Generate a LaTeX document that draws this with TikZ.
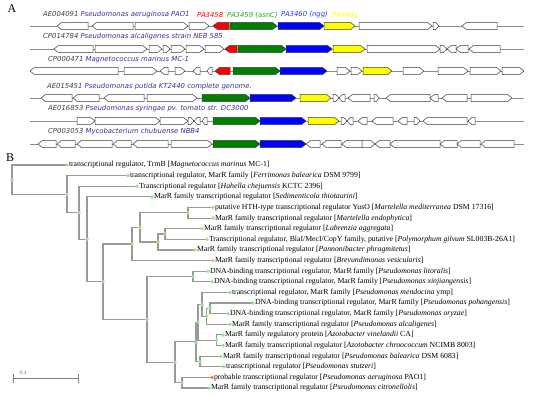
\documentclass[tikz,border=0pt]{standalone}
\usepackage{fontspec}
\setmainfont{Liberation Serif}
\newfontfamily\verd{DejaVu Sans}
\definecolor{gred}{HTML}{FF0000}
\definecolor{ggreen}{HTML}{008000}
\definecolor{gblue}{HTML}{0000FF}
\definecolor{gyel}{HTML}{FFFF00}
\definecolor{accgray}{HTML}{404040}
\definecolor{spblue}{HTML}{333399}
\definecolor{lblgreen}{HTML}{22AA22}
\definecolor{lblblue}{HTML}{3333FF}
\definecolor{brgray}{HTML}{999999}
\definecolor{dkhaki}{HTML}{D8CC7A}
\definecolor{dgreen}{HTML}{80F080}
\definecolor{dgray}{HTML}{C4C4C4}
\definecolor{dorange}{HTML}{F08030}
\tikzset{
  gene/.style={draw=black!75, line width=0.5bp, line join=miter},
  backbone/.style={draw=black!45, line width=0.7bp},
  alab/.style={font=\verd\itshape\fontsize{6.9}{8}\selectfont, inner sep=0pt, anchor=west},
  br/.style={draw=brgray, line width=1.1bp},
  dot/.style={circle, inner sep=0pt, minimum size=3.8bp, draw=none},
  lbl/.style={font=\fontsize{7.8}{9}\selectfont, inner sep=0pt, anchor=west},
  panel/.style={font=\fontsize{12}{13}\selectfont, inner sep=0pt}
}
\newcommand{\gfw}[4]{%
  \pgfmathsetmacro\tp{min(4.5,0.55*(#2-#1))}%
  \filldraw[gene,fill=#4] (#1,#3-3.6) -- (#2-\tp,#3-3.6) -- (#2,#3) -- (#2-\tp,#3+3.6) -- (#1,#3+3.6) -- cycle;}
\newcommand{\grv}[4]{%
  \pgfmathsetmacro\tp{min(4.5,0.55*(#2-#1))}%
  \filldraw[gene,fill=#4] (#2,#3-3.6) -- (#1+\tp,#3-3.6) -- (#1,#3) -- (#1+\tp,#3+3.6) -- (#2,#3+3.6) -- cycle;}
\newcommand{\leafnode}[5]{%
  \node[dot, fill=#4] (#1) at (#2,#3) {};
  \node[lbl] (t#1) at (#2+1.8,#3) {#5};}
\begin{document}
\begin{tikzpicture}[x=1bp,y=-1bp]
\useasboundingbox (0,0) rectangle (550,394);
\fill[white] (0,0) rectangle (550,394);
% ---------------- Panel A ----------------
\node[panel] (pA) at (12,9) {A};
\foreach \yy in {26,49,71,98,121,144} {\draw[backbone] (30,\yy) -- (524,\yy);}
% row 1
\grv{57}{88}{26}{white}
\grv{92}{133}{26}{white}
\gfw{135}{188}{26}{white}
\gfw{189}{209}{26}{white}
\grv{213}{229}{26}{gred}
\gfw{230}{277}{26}{ggreen}
\gfw{278}{324}{26}{gblue}
\gfw{324}{355}{26}{gyel}
\gfw{359}{432}{26}{white}
\gfw{433}{439}{26}{white}
\grv{462}{497}{26}{white}
% row 2
\grv{54}{93}{49}{white}
\gfw{95}{147}{49}{white}
\gfw{149}{162}{49}{white}
\gfw{163}{170}{49}{white}
\gfw{171}{185}{49}{white}
\gfw{186}{204}{49}{white}
\gfw{205}{224}{49}{white}
\grv{225}{237}{49}{gred}
\gfw{238}{286}{49}{ggreen}
\gfw{286}{332}{49}{gblue}
\gfw{333}{365}{49}{gyel}
\gfw{367}{440}{49}{white}
\gfw{440}{447}{49}{white}
\grv{447}{456}{49}{white}
\grv{456}{468}{49}{white}
\grv{469}{500}{49}{white}
% row 3
\grv{30}{118}{71}{white}
\gfw{124}{157}{71}{white}
\grv{160}{168}{71}{white}
\gfw{175}{185}{71}{white}
\grv{193}{200}{71}{white}
\grv{207}{212}{71}{white}
\grv{215}{230}{71}{gred}
\gfw{233}{280}{71}{ggreen}
\gfw{280}{327}{71}{gblue}
\gfw{337}{350}{71}{white}
\gfw{351}{362}{71}{white}
\gfw{363}{392}{71}{gyel}
\gfw{403}{424}{71}{white}
\gfw{438}{468}{71}{white}
\gfw{470}{501}{71}{white}
\gfw{502}{524}{71}{white}
% row 4
\grv{41}{72}{98}{white}
\grv{73}{99}{98}{white}
\grv{104}{144}{98}{white}
\gfw{147}{197}{98}{white}
\gfw{202}{250}{98}{ggreen}
\gfw{250}{296}{98}{gblue}
\gfw{300}{331}{98}{gyel}
\gfw{333}{339}{98}{white}
\grv{339}{345}{98}{white}
\grv{348}{370}{98}{white}
\gfw{374}{379}{98}{white}
\grv{386}{430}{98}{white}
\grv{430}{438}{98}{white}
\grv{442}{467}{98}{white}
\gfw{471}{512}{98}{white}
% row 5
\gfw{77}{95}{121}{white}
\gfw{95}{160}{121}{white}
\gfw{160}{188}{121}{white}
\gfw{188}{194}{121}{white}
\grv{194}{200}{121}{white}
\grv{202}{207}{121}{white}
\gfw{213}{260}{121}{ggreen}
\gfw{260}{306}{121}{gblue}
\gfw{308}{339}{121}{gyel}
\gfw{341}{347}{121}{white}
\grv{347}{353}{121}{white}
\grv{358}{367}{121}{white}
\grv{372}{393}{121}{white}
\grv{398}{407}{121}{white}
\gfw{414}{420}{121}{white}
\grv{423}{467}{121}{white}
\grv{468}{475}{121}{white}
% row 6
\grv{38}{56}{144}{white}
\grv{57}{75}{144}{white}
\grv{77}{112}{144}{white}
\grv{113}{131}{144}{white}
\grv{133}{168}{144}{white}
\gfw{171}{212}{144}{white}
\gfw{213}{260}{144}{ggreen}
\gfw{260}{306}{144}{gblue}
\grv{306}{320}{144}{white}
\grv{322}{341}{144}{white}
\grv{342}{362}{144}{white}
\gfw{362}{375}{144}{white}
\grv{375}{390}{144}{white}
\grv{390}{440}{144}{white}
\grv{440}{457}{144}{white}
\grv{457}{480}{144}{white}
\grv{481}{514}{144}{white}
% labels
\node[alab] (a1) at (43,15) {\color{accgray}AE004091 \color{spblue}Pseudomonas aeruginosa PAO1};
\node[alab, text=gred] (p58) at (197,15) {PA3458};
\node[alab, text=lblgreen] (p59) at (227,15) {PA3459 (asnC)};
\node[alab, text=lblblue] (p60) at (281,15) {PA3460 (ngg)};
\node[alab, text=gyel] (p61) at (332,15) {PA3461};
\node[alab] (a2) at (43,37) {\color{accgray}CP014784 \color{spblue}Pseudomonas alcaligenes strain NEB 585};
\node[alab] (a3) at (48,60) {\color{accgray}CP000471 \color{spblue}Magnetococcus marinus MC-1};
\node[alab] (a4) at (47,87) {\color{accgray}AE015451 \color{spblue}Pseudomonas putida KT2440 complete genome.};
\node[alab] (a5) at (48,109) {\color{accgray}AE016853 \color{spblue}Pseudomonas syringae pv. tomato str. DC3000};
\node[alab] (a6) at (48,132) {\color{accgray}CP003053 \color{spblue}Mycobacterium chubuense NBB4};
% ---------------- Panel B ----------------
\node[panel] (pB) at (10,158) {B};
% internal node coordinates
\coordinate (R) at (12,179.6);
\coordinate (N1) at (67,194.2);
\coordinate (N2) at (79,212.7);
\coordinate (N3) at (87,239.3);
\coordinate (N4) at (103,281.7);
\coordinate (N5) at (132,244.0);
\coordinate (N7) at (140,227.4);
\coordinate (N8) at (188,212.8);
\coordinate (N9) at (158,242.0);
\coordinate (N10) at (165,234.0);
\coordinate (N6) at (147,319.4);
\coordinate (N11) at (193,276.5);
\coordinate (N12) at (175,362.3);
\coordinate (N13) at (196,341.9);
\coordinate (D1) at (198,322.3);
\coordinate (NA) at (202,304.4);
\coordinate (NB) at (206.5,316.3);
\coordinate (NC) at (210,308.3);
\coordinate (NE) at (216.5,340.2);
\coordinate (NF) at (200,361.5);
\coordinate (N14) at (182,382.7);
% leaf coordinates
\coordinate (L1) at (67,165.0);
\coordinate (L2) at (128,175.6);
\coordinate (L3) at (137,186.2);
\coordinate (L4) at (152,196.9);
\coordinate (L5) at (213,207.5);
\coordinate (L6) at (213,218.1);
\coordinate (L7) at (202,228.7);
\coordinate (L8) at (207,239.3);
\coordinate (L9) at (195,250.0);
\coordinate (L10) at (213,260.6);
\coordinate (L11) at (208,271.2);
\coordinate (L12) at (212,281.8);
\coordinate (L13) at (230,292.4);
\coordinate (L14) at (253,303.0);
\coordinate (L15) at (228,313.7);
\coordinate (L16) at (230,324.3);
\coordinate (L17) at (223,334.9);
\coordinate (L18) at (223,345.5);
\coordinate (L19) at (221,356.2);
\coordinate (L20) at (224,366.8);
\coordinate (L21) at (212,377.4);
\coordinate (L22) at (209,388.0);
% branches
\foreach \p/\c in {R/L1,R/N1,N1/L2,N1/N2,N2/L3,N2/N3,N3/L4,N3/N4,N4/N5,N4/N6,
  N5/N7,N5/L10,N7/N8,N7/N9,N8/L5,N8/L6,N9/N10,N9/L9,N10/L7,N10/L8,
  N6/N11,N6/N12,N11/L11,N11/L12,N12/N13,N12/N14,N13/D1,N13/NF,D1/NA,D1/NE,
  NA/L13,NA/NB,NB/NC,NB/L16,NC/L14,NC/L15,NE/L17,NE/L18,NF/L19,NF/L20,N14/L21,N14/L22}
  {\draw[br] (\p) |- (\c);}
% internal dots
\foreach \n in {R,N1,N2,N3,N4,N6,N12,N14} {\node[dot, fill=dgray] (d\n) at (\n) {};}
\foreach \n in {N5,N7,N8,N9,N10} {\node[dot, fill=dkhaki] (d\n) at (\n) {};}
\foreach \n in {N11,N13,D1,NA,NB,NC,NE,NF} {\node[dot, fill=dgreen] (d\n) at (\n) {};}
% leaves
\leafnode{m1}{67}{165.0}{dkhaki}{transcriptional regulator, TrmB [\textit{Magnetococcus marinus} MC-1]}
\leafnode{m2}{128}{175.6}{dgreen}{transcriptional regulator, MarR family [\textit{Ferrimonas balearica} DSM 9799]}
\leafnode{m3}{137}{186.2}{dgreen}{Transcriptional regulator [\textit{Hahella chejuensis} KCTC 2396]}
\leafnode{m4}{152}{196.9}{dgreen}{MarR family transcriptional regulator [\textit{Sedimenticola thiotaurini}]}
\leafnode{m5}{213}{207.5}{dkhaki}{putative HTH-type transcriptional regulator YusO [\textit{Martelella mediterranea} DSM 17316]}
\leafnode{m6}{213}{218.1}{dkhaki}{MarR family transcriptional regulator [\textit{Martelella endophytica}]}
\leafnode{m7}{202}{228.7}{dkhaki}{MarR family transcriptional regulator [\textit{Labrenzia aggregata}]}
\leafnode{m8}{207}{239.3}{dkhaki}{Transcriptional regulator, BlaI/MecI/CopY family, putative [\textit{Polymorphum gilvum} SL003B-26A1]}
\leafnode{m9}{195}{250.0}{dkhaki}{MarR family transcriptional regulator [\textit{Pannonibacter phragmitetus}]}
\leafnode{m10}{213}{260.6}{dkhaki}{MarR family transcriptional regulator [\textit{Brevundimonas vesicularis}]}
\leafnode{m11}{208}{271.2}{dgreen}{DNA-binding transcriptional regulator, MarR family [\textit{Pseudomonas litoralis}]}
\leafnode{m12}{212}{281.8}{dgreen}{DNA-binding transcriptional regulator, MarR family [\textit{Pseudomonas xinjiangensis}]}
\leafnode{m13}{230}{292.4}{dgreen}{transcriptional regulator, MarR family [\textit{Pseudomonas mendocina} ymp]}
\leafnode{m14}{253}{303.0}{dgreen}{DNA-binding transcriptional regulator, MarR family [\textit{Pseudomonas pohangensis}]}
\leafnode{m15}{228}{313.7}{dgreen}{DNA-binding transcriptional regulator, MarR family [\textit{Pseudomonas oryzae}]}
\leafnode{m16}{230}{324.3}{dgreen}{MarR family transcriptional regulator [\textit{Pseudomonas alcaligenes}]}
\leafnode{m17}{223}{334.9}{dgreen}{MarR family regulatory protein [\textit{Azotobacter vinelandii} CA]}
\leafnode{m18}{223}{345.5}{dgreen}{MarR family transcriptional regulator [\textit{Azotobacter chroococcum} NCIMB 8003]}
\leafnode{m19}{221}{356.2}{dgreen}{MarR family transcriptional regulator [\textit{Pseudomonas balearica} DSM 6083]}
\leafnode{m20}{224}{366.8}{dgreen}{transcriptional regulator [\textit{Pseudomonas stutzeri}]}
\leafnode{m21}{212}{377.4}{dorange}{probable transcriptional regulator [\textit{Pseudomonas aeruginosa} PAO1]}
\leafnode{m22}{209}{388.0}{dgreen}{MarR family transcriptional regulator [\textit{Pseudomonas citronellolis}]}
% scale bar
\coordinate (sb1) at (13,378);
\coordinate (sb2) at (78,378);
\draw[draw=black!50, line width=0.7bp] (sb1) -- (sb2);
\draw[draw=black!50, line width=0.7bp] ([yshift=4.5bp]sb1) -- ([yshift=-4.5bp]sb1);
\draw[draw=black!50, line width=0.7bp] ([yshift=4.5bp]sb2) -- ([yshift=-4.5bp]sb2);
\node[font=\fontsize{5.5}{6}\selectfont, text=black!55, inner sep=0pt] (sbl) at (23,372.5) {0.4};
\end{tikzpicture}
\end{document}
